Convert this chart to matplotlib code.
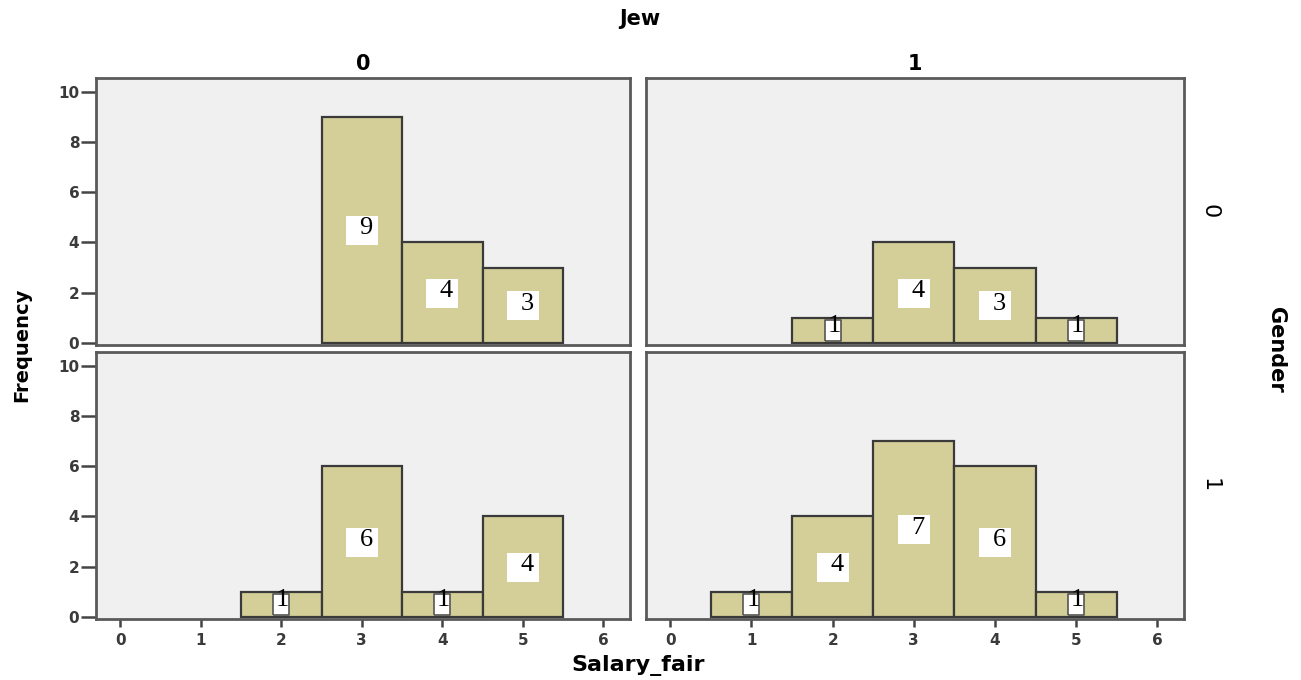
import matplotlib
matplotlib.use("Agg")
import matplotlib.pyplot as plt
import matplotlib.transforms as mtransforms

# Salary_fair histogram counts by Gender (rows) and Jew (columns)
salary_levels = [0, 1, 2, 3, 4, 5, 6]
row_labels = ["0", "1"]          # Gender
col_labels = ["0", "1"]          # Jew
g0_j0 = [0, 0, 0, 9, 4, 3, 0]
g0_j1 = [0, 0, 1, 4, 3, 1, 0]
g1_j0 = [0, 0, 1, 6, 1, 4, 0]
g1_j1 = [0, 1, 4, 7, 6, 1, 0]
counts = [[g0_j0, g0_j1], [g1_j0, g1_j1]]
y_ticks = [0, 2, 4, 6, 8, 10]

bar_color = "#D4CF98"
edge_color = "#3A3A3A"
panel_bg = "#F0F0F0"
frame_color = "#5A5A5A"
sans = ["DejaVu Sans"]
serif = ["Liberation Serif", "DejaVu Serif"]

DPI = 100
fig = plt.figure(figsize=(13.01, 6.80), dpi=DPI)

W, H = 1301.0, 680.0
col_x = [(96, 630), (646, 1184)]
row_y = [(78, 345), (352, 619)]


def box_marker(w_px, h_px):
    """Rectangular marker path with the given pixel aspect; returns (verts, size in pt)."""
    verts = [(-w_px / 2, -h_px / 2), (w_px / 2, -h_px / 2),
             (w_px / 2, h_px / 2), (-w_px / 2, h_px / 2), (-w_px / 2, -h_px / 2)]
    return verts, max(w_px, h_px) * 72.0 / DPI


for r in range(2):
    for c in range(2):
        x0, x1 = col_x[c]
        y0, y1 = row_y[r]
        ax = fig.add_axes([x0 / W, 1 - y1 / H, (x1 - x0) / W, (y1 - y0) / H])
        ax.set_facecolor(panel_bg)
        vals = counts[r][c]
        xs = [x for x, v in zip(salary_levels, vals) if v > 0]
        hs = [v for v in vals if v > 0]
        ax.bar(xs, hs, width=1.0, color=bar_color, edgecolor=edge_color,
               linewidth=1.6, zorder=2)
        for x, v in zip(xs, hs):
            if v >= 2:
                verts, ms = box_marker(32, 29)
                ax.plot([x], [v / 2], marker=verts, markersize=ms,
                        markerfacecolor="white", markeredgewidth=0,
                        linestyle="none", zorder=3)
                dx, dy = 3, 1
            else:
                verts, ms = box_marker(16, 21)
                ax.plot([x], [v / 2], marker=verts, markersize=ms,
                        markerfacecolor="white", markeredgecolor="#555555",
                        markeredgewidth=1.2, linestyle="none", zorder=3)
                dx, dy = 1, 3
            tr = mtransforms.offset_copy(ax.transData, fig=fig, x=dx, y=dy,
                                         units="points")
            ax.text(x, v / 2, str(v), ha="center", va="center",
                    fontsize=19, family=serif, color="black", zorder=4,
                    transform=tr)
        ax.set_xlim(-0.3, 6.33)
        ax.set_ylim(-0.08, 10.54)
        for s in ax.spines.values():
            s.set_color(frame_color)
            s.set_linewidth(2.0)
        ax.tick_params(axis="y", length=11, width=1.8, color="#444444",
                       pad=1, labelsize=11, labelcolor="#3A3A3A")
        ax.tick_params(axis="x", length=6, width=1.8, color="#444444",
                       pad=4, labelsize=11, labelcolor="#3A3A3A")
        ax.set_xticks(salary_levels)
        ax.set_yticks(y_ticks)
        if r == 0:
            ax.tick_params(axis="x", bottom=False, labelbottom=False)
            ax.set_title(col_labels[c], fontsize=15, fontweight="bold",
                         family=sans, pad=6)
        else:
            ax.set_xticklabels([str(v) for v in salary_levels])
        if c == 1:
            ax.tick_params(axis="y", left=False, labelleft=False)
            ax.text(1.047, 0.5, row_labels[r], transform=ax.transAxes,
                    rotation=-90, ha="center", va="center", fontsize=16,
                    family=sans)
        for lbl in ax.get_xticklabels() + ax.get_yticklabels():
            lbl.set_family(sans)
            lbl.set_fontweight("bold")

fig.text(640 / W, 1 - 19 / H, "Jew", ha="center", va="center",
         fontsize=15, fontweight="bold", family=sans)
fig.text(638 / W, 1 - 666 / H, "Salary_fair", ha="center", va="center",
         fontsize=16, fontweight="bold", family=sans)
fig.text(22 / W, 1 - 345 / H, "Frequency", ha="center", va="center",
         rotation=90, fontsize=14, fontweight="bold", family=sans)
fig.text(1276 / W, 1 - 350 / H, "Gender", ha="center", va="center",
         rotation=-90, fontsize=15, fontweight="bold", family=sans)

fig.savefig("out.png", dpi=DPI, facecolor="white")
